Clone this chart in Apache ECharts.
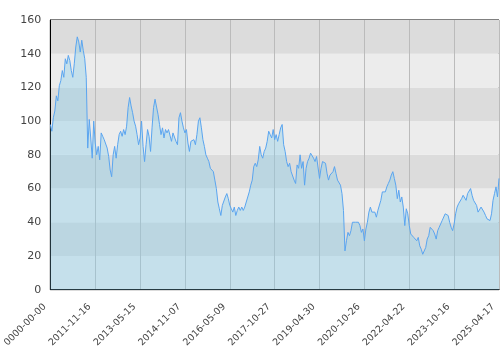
<!DOCTYPE html>
<html>
<head>
<meta charset="utf-8">
<script src="https://cdn.jsdelivr.net/npm/echarts@6/dist/echarts.min.js"></script>
<style>html,body{margin:0;padding:0;background:#fff}#c{width:500px;height:350px}</style>
</head>
<body>
<div id="c"></div>
<script>
const tickLabels = ['0000-00-00','2011-11-16','2013-05-15','2014-11-07','2016-05-09','2017-10-27','2019-04-30','2020-10-26','2022-04-22','2023-10-16','2025-04-17'];
const labelStep = 30;
const values = [
98,94,102,106,115,112,121,124,130,126,
137,134,139,136,130,126,134,144,150,147,
141,148,142,137,126,84,101,90,78,100,
87,80,85,77,93,91,89,90,84,79,
71,67,80,85,78,86,92,94,91,95,
92,97,108,114,109,105,100,97,92,86,
90,100,85,76,86,95,91,82,96,108,
113,114,104,98,92,96,90,95,93,95,
96,88,93,92,88,86,102,105,100,96,
93,95,87,82,88,87,89,86,92,100,
102,96,89,85,80,78,76,72,71,70,
65,60,52,48,44,50,51,55,57,54,
50,48,46,49,44,47,49,47,49,47,
49,52,55,58,62,65,73,75,73,77,
85,80,78,82,84,88,94,92,90,95,
89,92,88,92,96,98,86,82,76,73,
75,70,71,65,63,74,72,80,72,76,
62,72,76,78,81,82,78,76,79,80,
66,72,76,77,75,69,65,68,67,70,
73,69,65,66,62,57,47,23,29,34,
32,35,40,41,40,41,40,38,34,36,
29,36,40,46,49,46,47,46,43,47,
48,53,58,59,58,61,63,65,68,70,
66,62,54,59,52,55,49,38,48,45,
38,33,33,31,32,29,31,26,24,21,
20,25,30,32,37,36,35,33,30,35,
37,38,41,42,45,46,44,40,37,35,
39,45,49,51,52,54,56,55,53,57,
56,60,56,53,52,50,46,47,49,48,
46,44,42,43,41,45,53,57,61,55,
66
];
const categories = values.map((v, i) => String(i));
const isTick = (i) => i % labelStep === 0;

const chart = echarts.init(document.getElementById('c'), null, {renderer: 'canvas'});
chart.setOption({
  animation: false,
  textStyle: {fontFamily: 'DejaVu Sans'},
  grid: {left: 45, right: 1, top: 20, bottom: 60, show: true, borderColor: '#000', borderWidth: 1, backgroundColor: 'transparent'},
  xAxis: {
    type: 'category',
    data: categories,
    boundaryGap: false,
    axisLine: {show: true, lineStyle: {color: '#000', width: 1}},
    axisTick: {show: false},
    splitLine: {show: true, interval: (i) => isTick(i), lineStyle: {color: '#bbbbbb', width: 1}},
    axisLabel: {
      interval: (i) => isTick(i),
      rotate: 45,
      margin: 10,
      padding: [0, 8, 0, 0],
      fontSize: 9.5,
      color: '#444',
      fontFamily: 'DejaVu Sans',
      formatter: (val) => tickLabels[Math.round(Number(val) / labelStep)]
    }
  },
  yAxis: {
    type: 'value',
    min: 0, max: 160, interval: 20,
    axisLine: {show: true, lineStyle: {color: '#000', width: 1}},
    axisTick: {show: false},
    splitLine: {show: false},
    splitArea: {show: true, areaStyle: {color: ['#ececec', '#dcdcdc']}},
    axisLabel: {fontSize: 11, color: '#444', margin: 9, fontFamily: 'DejaVu Sans'}
  },
  series: [{
    type: 'line',
    data: values,
    showSymbol: false,
    symbol: 'none',
    lineStyle: {color: '#5aa5f0', width: 1},
    areaStyle: {color: 'rgba(135,206,235,0.55)'},
    z: 2
  }]
});
</script>
</body>
</html>
